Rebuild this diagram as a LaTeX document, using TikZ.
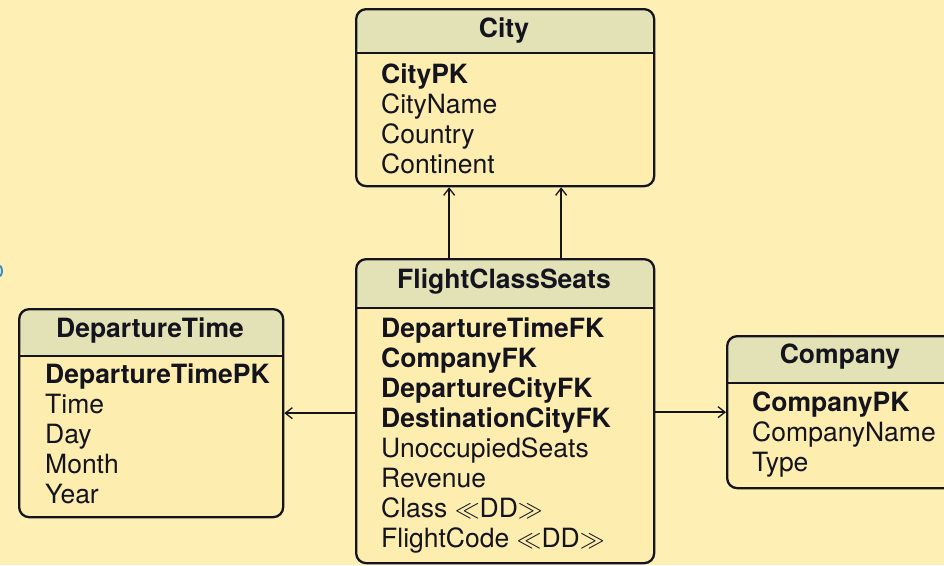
\documentclass[tikz,border=0pt]{standalone}
\usepackage{fontspec}
\setmainfont{TeX Gyre Heros}
\usetikzlibrary{arrows.meta}
\definecolor{bgcol}{RGB}{254,240,180}
\definecolor{bodycol}{RGB}{253,238,176}
\definecolor{headcol}{RGB}{227,225,182}
\definecolor{inkcol}{RGB}{20,20,30}
\definecolor{markcol}{RGB}{60,140,200}
\tikzset{
  tbl/.style={draw=inkcol, line width=2.3pt, rounded corners=10pt, fill=bodycol,
    anchor=north west, inner sep=0pt,
    path picture={
      \fill[headcol] (path picture bounding box.north west) rectangle
        ([yshift=-#1]path picture bounding box.north east);
      \draw[inkcol, line width=2pt] ([yshift=-#1]path picture bounding box.north west) --
        ([yshift=-#1]path picture bounding box.north east);
    }},
  ttl/.style={anchor=base, inner sep=0pt, font=\fontsize{26.5}{30}\selectfont\bfseries, text=inkcol},
  attr/.style={anchor=base west, inner sep=0pt, font=\fontsize{26.5}{30}\selectfont, text=inkcol},
  key/.style={attr, font=\fontsize{26.5}{30}\selectfont\bfseries},
  link/.style={draw=inkcol, line width=1.5pt, -{Straight Barb[length=7pt,width=11pt,line width=1.3pt]}}
}
\begin{document}
\begin{tikzpicture}[x=1pt, y=-1pt]
\useasboundingbox (0,0) rectangle (944,565);
\clip (0,0) rectangle (944,565);
\fill[bgcol] (0,0) rectangle (944,565);
\draw[markcol, line width=2pt] (-2,271) ellipse [x radius=4pt, y radius=6pt];

% tables
\node[tbl=44pt, minimum width=298pt, minimum height=177pt] (city) at (355,8) {};
\node[tbl=49pt, minimum width=298pt, minimum height=304pt] (fcs) at (355,258) {};
\node[tbl=47pt, minimum width=264pt, minimum height=208pt] (dep) at (18,308) {};
\node[tbl=47pt, minimum width=228pt, minimum height=152pt] (comp) at (726,335) {};

% City
\node[ttl] (cityT) at (504,37) {City};
\node[key]  (city1) at (381,83)  {CityPK};
\node[attr] (city2) at (381,113) {CityName};
\node[attr] (city3) at (381,143) {Country};
\node[attr] (city4) at (381,173) {Continent};

% FlightClassSeats
\node[ttl] (fcsT) at (504,288) {FlightClassSeats};
\node[key]  (fcs1) at (381,337) {DepartureTimeFK};
\node[key]  (fcs2) at (381,367) {CompanyFK};
\node[key]  (fcs3) at (381,397) {DepartureCityFK};
\node[key]  (fcs4) at (381,427) {DestinationCityFK};
\node[attr] (fcs5) at (381,457) {UnoccupiedSeats};
\node[attr] (fcs6) at (381,487) {Revenue};
\node[attr] (fcs7) at (381,517) {Class $\ll$DD$\gg$};
\node[attr] (fcs8) at (381,547) {FlightCode $\ll$DD$\gg$};

% DepartureTime
\node[ttl] (depT) at (150,337) {DepartureTime};
\node[key]  (dep1) at (45,383) {DepartureTimePK};
\node[attr] (dep2) at (45,413) {Time};
\node[attr] (dep3) at (45,443) {Day};
\node[attr] (dep4) at (45,473) {Month};
\node[attr] (dep5) at (45,503) {Year};

% Company
\node[ttl] (compT) at (840,363) {Company};
\node[key]  (comp1) at (752,411) {CompanyPK};
\node[attr] (comp2) at (752,441) {CompanyName};
\node[attr] (comp3) at (752,471) {Type};

% references
\draw[link] ([xshift=-56pt]fcs.north) -- ([xshift=-56pt]city.south);
\draw[link] ([xshift=56pt]fcs.north) -- ([xshift=56pt]city.south);
\draw[link] (fcs.west |- dep.east) -- (dep.east);
\draw[link] (fcs.east |- comp.west) -- (comp.west);
\end{tikzpicture}
\end{document}
